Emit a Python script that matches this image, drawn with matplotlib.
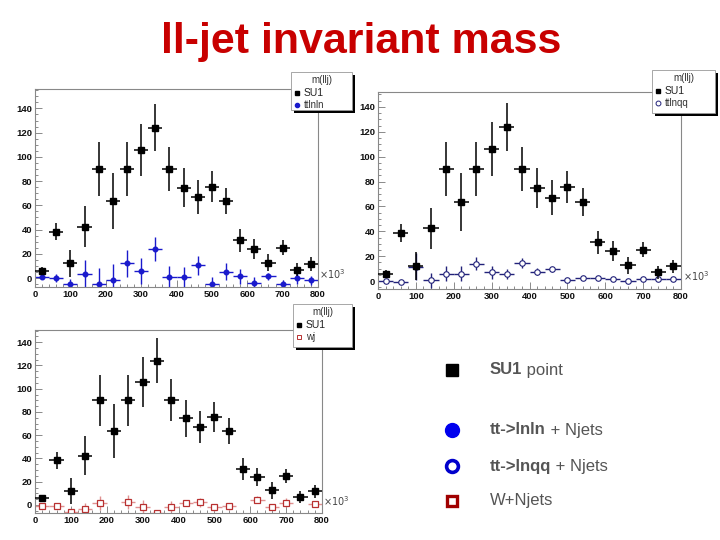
import numpy as np
import matplotlib
matplotlib.use('Agg')
import matplotlib.pyplot as plt
from matplotlib.patches import Rectangle
from matplotlib.lines import Line2D
from matplotlib.ticker import MultipleLocator

plt.rcParams['font.family'] = ['Liberation Sans', 'DejaVu Sans']

# bin centres of m(llj), in units of 10^3
mass_bins = [20, 60, 100, 140, 180, 220, 260, 300, 340, 380,
             420, 460, 500, 540, 580, 620, 660, 700, 740, 780]

# SU1 signal (same in all three panels)
su1 = [5.7, 38.4, 12, 42.5, 90, 63.5, 90, 106, 124, 90,
       74.6, 67, 75.5, 63.5, 31, 24, 12.5, 25, 7, 11.7]
su1_err = [3, 7.4, 11, 16.6, 22, 23, 22, 21.5, 19.4, 18,
           16, 14, 12.7, 11, 9.5, 8, 7, 6, 5.4, 5.5]

# tt -> lnln
ttlnln = [1.1, 0, -4.6, 3, -4.6, -1.6, 12, 5.7, 24, 1,
          1, 10.4, -5, 5.2, 1.4, -3.8, 1.4, -5, -0.3, -2]
ttlnln_err = [2, 3.5, 4, 12, 13, 13, 11.5, 11, 10, 9,
              8.5, 8, 6, 7, 6, 5, 3, 3, 5, 4]

# tt -> lnqq
ttlnqq = [0, -1, 11.5, 0.8, 6, 6, 14, 7, 6, 14.8,
          7.5, 9.4, 0.8, 2.1, 2.1, 1.3, -0.3, 1.3, 1.6, 1.3]
ttlnqq_err = [1, 1, 11, 6, 6, 6, 5.5, 5, 4, 4,
              3, 2, 1, 1, 1, 1, 1, 1, 1, 1]

# W + jets
wj = [-0.9, -0.6, -6, -3.7, 1.4, np.nan, 2.9, -1.4, -6.5, -1.4,
      2, 2.3, -2, -1.1, np.nan, 4.3, -1.4, 2, np.nan, 0.6]
wj_err = [1, 1, 0, 5, 6, 0, 6, 6, 0, 5,
          1, 4, 3, 3, 0, 3, 2, 4, 0, 2]

W, H = 720, 540
fig = plt.figure(figsize=(7.2, 5.4), dpi=100)


def px_axes(left, top, right, bottom):
    return fig.add_axes([left / W, 1 - bottom / H, (right - left) / W, (bottom - top) / H])


def style_axes(ax, ylo, yhi):
    ax.set_xlim(0, 800)
    ax.set_ylim(ylo, yhi)
    ax.xaxis.set_major_locator(MultipleLocator(100))
    ax.xaxis.set_minor_locator(MultipleLocator(20))
    ax.yaxis.set_major_locator(MultipleLocator(20))
    ax.yaxis.set_minor_locator(MultipleLocator(5))
    ax.tick_params(which='both', direction='in', color='#777777', labelsize=6.8,
                   labelcolor='#111111', pad=2, width=0.6)
    ax.tick_params(which='major', length=5)
    ax.tick_params(which='minor', length=2.5)
    for lab in ax.get_xticklabels() + ax.get_yticklabels():
        lab.set_fontweight('bold')
    for s in ax.spines.values():
        s.set_color('#888888')
        s.set_linewidth(0.8)
    ax.text(1.005, 0.03, r'$\times10^{3}$', transform=ax.transAxes,
            fontsize=7, color='#444444', va='bottom', ha='left')


def draw_su1(ax):
    ax.errorbar(mass_bins, su1, xerr=20, yerr=su1_err, fmt='s', ms=4.1,
                color='black', elinewidth=1.1, capsize=0, zorder=3)


def box_legend(left, top, right, bottom, label2, marker2):
    fig.add_artist(Rectangle((left / W + 3 / W, 1 - (bottom + 3) / H),
                             (right - left) / W, (bottom - top) / H,
                             transform=fig.transFigure, facecolor='black',
                             edgecolor='none', zorder=5))
    fig.add_artist(Rectangle((left / W, 1 - bottom / H), (right - left) / W,
                             (bottom - top) / H, transform=fig.transFigure,
                             facecolor='white', edgecolor='#999999', lw=0.6, zorder=6))
    rows = [top + 8, top + 21, top + 33]
    fig.text((left + right) / 2 / W, 1 - rows[0] / H, 'm(llj)', fontsize=7,
             color='#333333', ha='center', va='center', zorder=7)
    fig.add_artist(Line2D([(left + 6) / W], [1 - rows[1] / H], marker='s', ms=3.2,
                          color='black', ls='none', transform=fig.transFigure, zorder=7))
    fig.text((left + 13) / W, 1 - rows[1] / H, 'SU1', fontsize=7.5,
             color='#222222', va='center', zorder=7)
    fig.add_artist(Line2D([(left + 6) / W], [1 - rows[2] / H], ls='none',
                          transform=fig.transFigure, zorder=7, **marker2))
    fig.text((left + 13) / W, 1 - rows[2] / H, label2, fontsize=7,
             color='#333333', va='center', zorder=7)


# panel 1 : SU1 + tt->lnln
ax1 = px_axes(35, 89, 318, 287)
style_axes(ax1, -7.4, 156)
draw_su1(ax1)
ax1.errorbar(mass_bins, ttlnln, xerr=20, yerr=ttlnln_err, fmt='o', ms=3.3,
             color='#1a1acc', elinewidth=1.0, capsize=0, zorder=2)
box_legend(291, 72, 352, 110, 'ttlnln',
           dict(marker='o', ms=3, color='#1a1acc'))

# panel 2 : SU1 + tt->lnqq
ax2 = px_axes(378, 92, 681, 289)
style_axes(ax2, -6.4, 152)
draw_su1(ax2)
ax2.errorbar(mass_bins, ttlnqq, xerr=20, yerr=ttlnqq_err, fmt='o', ms=4,
             color='#22227a', mfc='white', mec='#22227a', mew=0.8,
             elinewidth=1.0, capsize=0, zorder=2)
box_legend(652, 70, 715, 113, 'ttlnqq',
           dict(marker='o', ms=3.5, mfc='white', mec='#22227a', mew=0.7))

# panel 3 : SU1 + W+jets
ax3 = px_axes(35, 330, 322, 513)
style_axes(ax3, -6.9, 150.5)
draw_su1(ax3)
ax3.errorbar(mass_bins, wj, xerr=20, yerr=wj_err, fmt='s', ms=4,
             color='#e09090', mfc='white', mec='#b83030', mew=0.9,
             elinewidth=1.0, capsize=0, zorder=2)
box_legend(293, 304, 352, 347, 'wj',
           dict(marker='s', ms=3.3, mfc='white', mec='#b83030', mew=0.7))

# title
fig.text(361 / W, 1 - 42 / H, 'll-jet invariant mass', fontsize=31,
         fontweight='bold', color='#c80000', ha='center', va='center')

# big legend on the bottom right
key_rows = [370, 430, 466, 501]
key_bold = ['SU1', 'tt->lnln', 'tt->lnqq', 'W+Njets']
key_rest = [' point', ' + Njets', ' + Njets', '']
key_markers = [
    dict(marker='s', ms=8.5, color='black'),
    dict(marker='o', ms=10, color='#0000ee'),
    dict(marker='o', ms=8.5, mfc='white', mec='#0000cc', mew=2.6),
    dict(marker='s', ms=7.5, mfc='white', mec='#a00000', mew=2.4),
]
renderer = fig.canvas.get_renderer()
for yy, b, r, m in zip(key_rows, key_bold, key_rest, key_markers):
    fig.add_artist(Line2D([452 / W], [1 - yy / H], ls='none',
                          transform=fig.transFigure, **m))
    bold_weight = 'bold' if r else 'normal'
    t = fig.text(490 / W, 1 - yy / H, b, fontsize=12, fontweight=bold_weight,
                 color='#555555', va='center')
    if r:
        bb = t.get_window_extent(renderer=renderer)
        fig.text(bb.x1 / fig.bbox.width, 1 - yy / H, r, fontsize=12,
                 color='#555555', va='center')

fig.savefig('out.png', dpi=100)
